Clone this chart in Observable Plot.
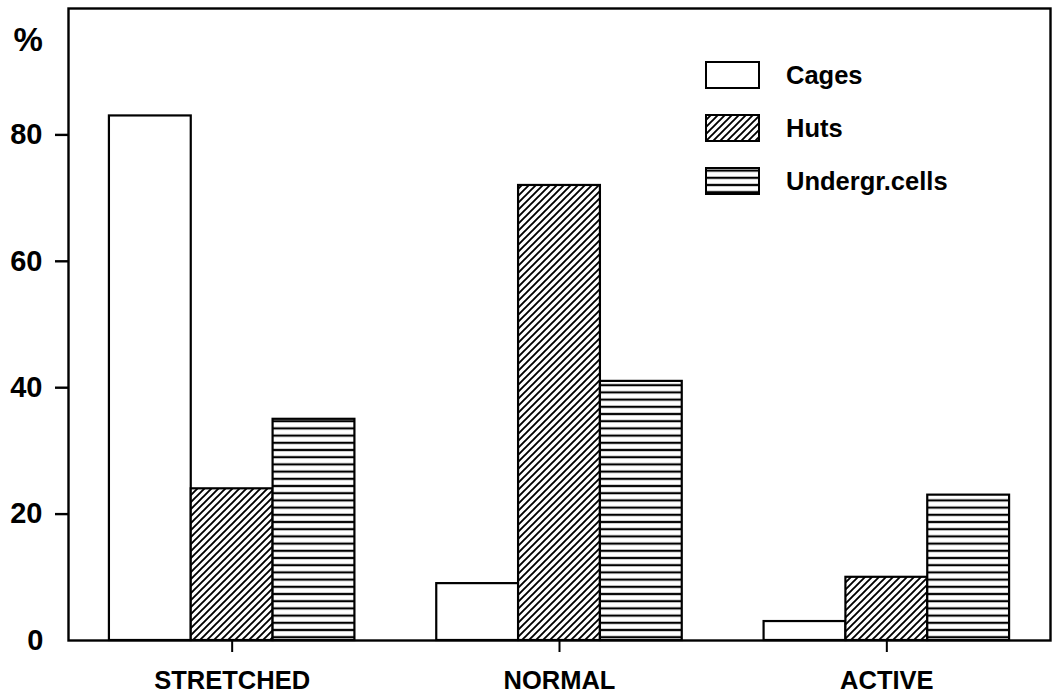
<!DOCTYPE html>
<html>
<head>
<meta charset="utf-8">
<script src="https://cdn.jsdelivr.net/npm/d3@7"></script>
<script src="https://cdn.jsdelivr.net/npm/@observablehq/plot@0.6"></script>
<style>
  html, body { margin: 0; padding: 0; background: #fff; }
  #wrap { position: relative; width: 1052px; height: 693px; font-family: "Liberation Sans", Arial, sans-serif; font-weight: bold; color: #000; }
  #legend { position: absolute; left: 705px; top: 60px; }
  .row { display: flex; align-items: center; height: 30px; margin-bottom: 23px; }
  .sw { width: 55px; height: 28px; box-sizing: border-box; }
  .lab { margin-left: 26px; font-size: 25.5px; line-height: 28px; }
</style>
</head>
<body>
<svg width="0" height="0" style="position:absolute">
  <defs>
    <pattern id="diag" patternUnits="userSpaceOnUse" width="7" height="7">
      <rect width="7" height="7" fill="#fff"/>
      <path d="M0,7 L7,0 M-1,1 L1,-1 M6,8 L8,6" stroke="#000" stroke-width="1.9"/>
    </pattern>
    <pattern id="horiz" patternUnits="userSpaceOnUse" width="8" height="7.2">
      <rect width="8" height="7.2" fill="#fff"/>
      <line x1="0" x2="8" y1="3.6" y2="3.6" stroke="#000" stroke-width="2.2"/>
    </pattern>
  </defs>
</svg>
<div id="wrap">
  <div id="chart"></div>
  <div id="legend"></div>
</div>
<script>
const categories = ["STRETCHED", "NORMAL", "ACTIVE"];
const series = ["Cages", "Huts", "Undergr.cells"];
const cages = [83, 9, 3];
const huts = [24, 72, 10];
const undergr = [35, 41, 23];
const yTicks = [20, 40, 60, 80];
const fills = ["#fff", "url(#diag)", "url(#horiz)"];

const values = [cages, huts, undergr];
const rows = categories.flatMap((c, i) =>
  series.map((s, j) => ({cat: c, ci: i, series: s, sj: j, value: values[j][i]}))
);
const barW = 0.25;

const plot = Plot.plot({
  width: 1052,
  height: 693,
  marginLeft: 68,
  marginRight: 2,
  marginTop: 8,
  marginBottom: 53,
  style: {fontFamily: '"Liberation Sans", Arial, sans-serif', fontWeight: "bold", color: "#000", background: "#fff", overflow: "visible"},
  x: {domain: [-0.5, 2.5]},
  y: {domain: [0, 100]},
  marks: [
    Plot.rectY(rows, {
      x1: d => d.ci - 1.5 * barW + d.sj * barW,
      x2: d => d.ci - 1.5 * barW + (d.sj + 1) * barW,
      y1: 0,
      y2: "value",
      fill: d => fills[d.sj],
      stroke: "#000",
      strokeWidth: 2.2
    }),
    Plot.frame({stroke: "#000", strokeWidth: 2.4}),
    Plot.axisY({ticks: yTicks, tickSize: 13, tickPadding: 13, fontSize: 29, strokeWidth: 2.4, label: null}),
    Plot.axisY({ticks: [0], tickSize: 0, tickPadding: 25, fontSize: 29, label: null}),
    Plot.axisX({ticks: [0, 1, 2], tickFormat: i => categories[i], tickSize: 12, tickPadding: 18, fontSize: 25.5, strokeWidth: 2, label: null}),
    Plot.text(["%"], {frameAnchor: "top-left", dx: -55, dy: 32, textAnchor: "start", lineAnchor: "middle", fontSize: 33, fontWeight: "bold"})
  ]
});
document.getElementById("chart").appendChild(plot);

const legend = d3.select("#legend");
series.forEach((s, j) => {
  const row = legend.append("div").attr("class", "row");
  const sw = row.append("svg").attr("class", "sw").attr("width", 55).attr("height", 28);
  sw.append("rect").attr("x", 1).attr("y", 1).attr("width", 53).attr("height", 26)
    .attr("fill", fills[j]).attr("stroke", "#000").attr("stroke-width", 2);
  row.append("div").attr("class", "lab").text(s);
});
</script>
</body>
</html>
